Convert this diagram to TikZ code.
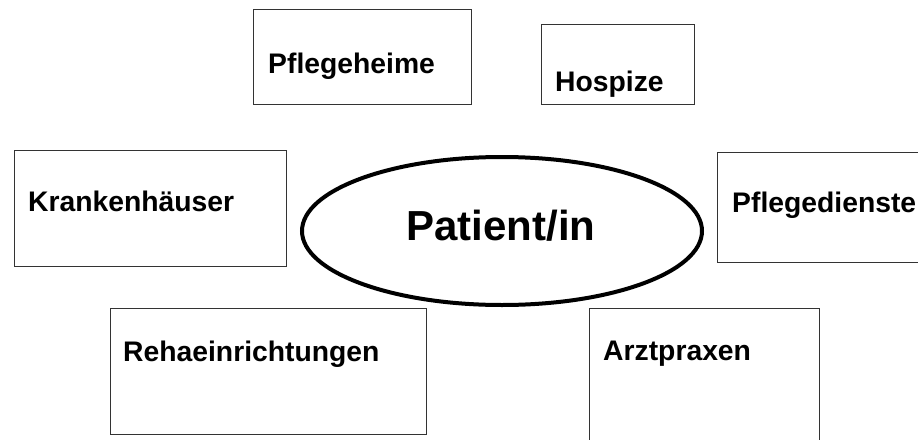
\documentclass[tikz,border=0pt]{standalone}
\usepackage{fontspec}
\setmainfont{Liberation Sans}
\usetikzlibrary{shapes,positioning}

\begin{document}
\begin{tikzpicture}[
  x=1pt, y=-1pt,
  kasten/.style={draw=black!80, line width=0.9pt, inner sep=0pt, anchor=north west},
  label/.style={anchor=base west, inner sep=0pt, font=\fontsize{28.3}{33}\selectfont\bfseries},
  mitte/.style={draw, ellipse, line width=4pt, inner sep=0pt, minimum width=400pt, minimum height=148pt}
]
  \useasboundingbox (0,0) rectangle (918,439);
  \clip (0,0) rectangle (918,439);

  % Einrichtungen oben
  \node[kasten, minimum width=218pt, minimum height=95pt] (heime) at (253,9) {};
  \node[label] (heimeT) at (268,73) {Pflegeheime};
  \node[kasten, minimum width=153pt, minimum height=80pt] (hospiz) at (541,24) {};
  \node[label] (hospizT) at (555,91) {Hospize};

  % Mitte
  \node[kasten, minimum width=272pt, minimum height=116pt] (kh) at (14,150) {};
  \node[label] (khT) at (28,211) {Krankenhäuser};
  \node[mitte] (patient) at (502,231) {};
  \node[anchor=base, inner sep=0pt, font=\fontsize{42}{48}\selectfont\bfseries] (patientT) at (501,240) {Patient/in};
  \node[kasten, minimum width=220pt, minimum height=110pt] (dienst) at (717,152) {};
  \node[label] (dienstT) at (732,212) {Pflegedienste};

  % Einrichtungen unten
  \node[kasten, minimum width=316pt, minimum height=126pt] (reha) at (110,308) {};
  \node[label] (rehaT) at (123,361) {Rehaeinrichtungen};
  \node[kasten, minimum width=230pt, minimum height=150pt] (arzt) at (589,308) {};
  \node[label] (arztT) at (603,360) {Arztpraxen};
\end{tikzpicture}
\end{document}
